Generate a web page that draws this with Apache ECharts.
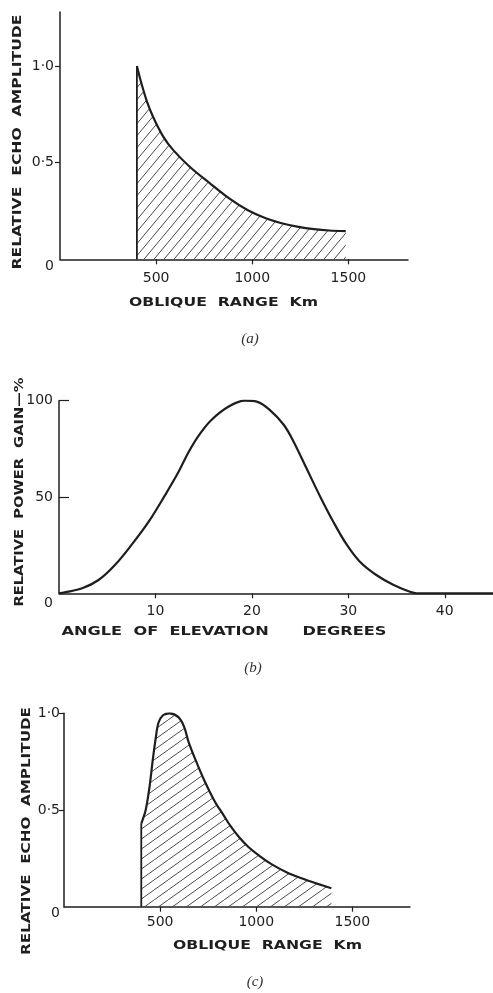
<!DOCTYPE html>
<html lang="en">
<head>
    <meta charset="UTF-8">
    <title>Echo amplitude and power gain</title>
    <script src="https://cdn.jsdelivr.net/npm/echarts@6/dist/echarts.min.js"></script>
    <style>
        html, body {margin: 0; padding: 0; background: #fff;}
    </style>
</head>
<body>
    <div id="main" style="width: 493px; height: 993px"></div>
    <script type="text/javascript">
        // (a) echo amplitude vs oblique range
        const rangeA = [400, 410, 425, 451, 485, 537, 589, 676, 780, 880, 975, 1070, 1148, 1240, 1321, 1400, 1486];
        const ampA = [1.0, 0.96, 0.905, 0.82, 0.735, 0.635, 0.565, 0.478, 0.393, 0.315, 0.255, 0.212, 0.188, 0.168, 0.156, 0.149, 0.146];
        const edgeA = [[400, 0], [400, 1.0]];

        // (b) power gain vs angle of elevation
        const angleB = [0, 0.6, 2.4, 4.1, 5.8, 7.5, 9.3, 11.0, 12.4, 13.4, 14.5, 15.8, 17.6, 19.3, 20.5, 21.9, 23.3, 24.3, 25.7, 27.1, 28.4, 29.8, 31.2, 32.9, 34.7, 36.4, 37.1, 45];
        const gainB = [0, 0.5, 2.6, 6.9, 14.7, 25, 37.2, 51, 63.1, 73, 82, 90, 97, 100, 99.5, 95, 87.5, 79, 64.5, 50, 37.5, 25.5, 16.4, 9.5, 4.3, 0.8, 0, 0];

        // (c) echo amplitude vs oblique range
        const rangeC = [402, 425, 445, 462, 477, 491, 515, 550, 595, 625, 647, 681, 733, 785, 829, 864, 910, 958, 1020, 1079, 1160, 1235, 1320, 1391];
        const ampC = [0.43, 0.5, 0.62, 0.76, 0.87, 0.95, 0.99, 1.0, 0.98, 0.93, 0.855, 0.767, 0.646, 0.543, 0.475, 0.42, 0.36, 0.31, 0.26, 0.22, 0.177, 0.147, 0.118, 0.095];
        const edgeC = [[402, 0], [402, 0.43]];

        const rangeTicks = [500, 1000, 1500];
        const ampTicks = [0, 0.5, 1];
        const ampLabels = {0: '0', 0.5: '0·5', 1: '1·0'};
        const angleTicks = [10, 20, 30, 40];
        const gainTicks = [0, 50, 100];

        const ink = '#1e1e1e';
        const FONT = '"DejaVu Sans", sans-serif';

        function hatch(w, h) {
            let c = document.createElement('canvas');
            c.width = w; c.height = h;
            let g = c.getContext('2d');
            g.strokeStyle = '#4a4a4a';
            g.lineWidth = 1;
            g.beginPath();
            g.moveTo(0, h); g.lineTo(w, 0);
            g.moveTo(-w, h); g.lineTo(0, 0);
            g.moveTo(w, 2 * h); g.lineTo(2 * w, h);
            g.stroke();
            return c;
        }

        function zip(xs, ys) {
            return xs.map((x, i) => [x, ys[i]]);
        }

        let measure = document.createElement('canvas').getContext('2d');
        function label(text, cx, cy, span, rotation) {
            let font = 'bold 13px "DejaVu Sans"';
            measure.font = font;
            let w = measure.measureText(text).width;
            return {
                type: 'text', x: cx, y: cy, rotation: rotation, scaleX: span / w,
                style: {text: text, x: 0, y: 0, font: font, fill: ink,
                    align: 'center', verticalAlign: 'middle',
                    textAlign: 'center', textVerticalAlign: 'middle'}
            };
        }
        function caption(text, cx, cy) {
            return {
                type: 'text', x: cx, y: cy,
                style: {text: text, x: 0, y: 0, font: 'italic 15px "Liberation Serif"', fill: '#333',
                    align: 'center', verticalAlign: 'middle',
                    textAlign: 'center', textVerticalAlign: 'middle'}
            };
        }

        function xAxis(grid, max, ticks, margin) {
            return {
                type: 'value', gridIndex: grid, min: 0, max: max,
                axisLine: {lineStyle: {color: ink, width: 1.5}},
                axisTick: {customValues: ticks, length: 5, lineStyle: {color: ink, width: 1.2}},
                axisLabel: {customValues: ticks, margin: margin, color: ink, fontSize: 14, fontFamily: FONT,
                    formatter: v => String(v)},
                splitLine: {show: false}
            };
        }
        function yAxis(grid, max, ticks, labelTicks, fmt, margin, inside, tickLen, zeroPad) {
            return {
                type: 'value', gridIndex: grid, min: 0, max: max,
                axisLine: {show: true, lineStyle: {color: ink, width: 1.5}},
                axisTick: {show: true, customValues: ticks, inside: inside, length: tickLen, lineStyle: {color: ink, width: 1.2}},
                axisLabel: {
                    customValues: labelTicks, margin: margin, color: ink, fontSize: 14, fontFamily: FONT,
                    formatter: v => v === 0 ? '{o|0}' : fmt(v),
                    rich: {o: {padding: [zeroPad, 0, 0, 0], fontSize: 14, fontFamily: FONT, color: ink}}
                },
                splitLine: {show: false}
            };
        }

        function curve(xi, yi, data, pattern, smooth) {
            return {
                type: 'line', xAxisIndex: xi, yAxisIndex: yi, data: data,
                showSymbol: false, smooth: smooth, z: 3,
                lineStyle: {color: ink, width: 2.2},
                areaStyle: pattern ? {color: {image: pattern, repeat: 'repeat'}, opacity: 1} : undefined
            };
        }
        function edge(xi, yi, data) {
            return {
                type: 'line', xAxisIndex: xi, yAxisIndex: yi, data: data,
                showSymbol: false, z: 4, lineStyle: {color: ink, width: 1.8}
            };
        }

        let chart = echarts.init(document.getElementById('main'));
        let option = {
            backgroundColor: '#fff',
            animation: false,
            grid: [
                {left: 60, top: 12, width: 348, height: 247.3},
                {left: 59, top: 400.7, width: 434, height: 192.6},
                {left: 64, top: 713.3, width: 346, height: 193.4}
            ],
            xAxis: [
                xAxis(0, 1810, rangeTicks, 12),
                xAxis(1, 45, angleTicks, 11),
                xAxis(2, 1800, rangeTicks, 9)
            ],
            yAxis: [
                yAxis(0, 1.28, [0.5, 1], ampTicks, v => ampLabels[v], 6, false, 5, 15),
                yAxis(1, 100, [50, 100], gainTicks, v => String(v), 6, true, 10, 20),
                yAxis(2, 1, [0.5, 1], ampTicks, v => ampLabels[v], 4, false, 5, 13)
            ],
            series: [
                curve(0, 0, zip(rangeA, ampA), hatch(10, 12), 0.3),
                edge(0, 0, edgeA),
                curve(1, 1, zip(angleB, gainB), null, 0.35),
                curve(2, 2, zip(rangeC, ampC), hatch(14, 10), 0.3),
                edge(2, 2, edgeC)
            ],
            graphic: [
                label('RELATIVE  ECHO  AMPLITUDE', 18, 142, 255, Math.PI / 2),
                label('OBLIQUE  RANGE  Km', 223.5, 302.7, 189, 0),
                caption('(a)', 250, 339),
                label('RELATIVE  POWER  GAIN—%', 20, 492, 229, Math.PI / 2),
                label('ANGLE  OF  ELEVATION      DEGREES', 224, 631.7, 325, 0),
                caption('(b)', 253, 668),
                label('RELATIVE  ECHO  AMPLITUDE', 26.7, 831, 248, Math.PI / 2),
                label('OBLIQUE  RANGE  Km', 267.5, 945.7, 189, 0),
                caption('(c)', 255, 982)
            ]
        };
        chart.setOption(option);
    </script>
</body>
</html>
